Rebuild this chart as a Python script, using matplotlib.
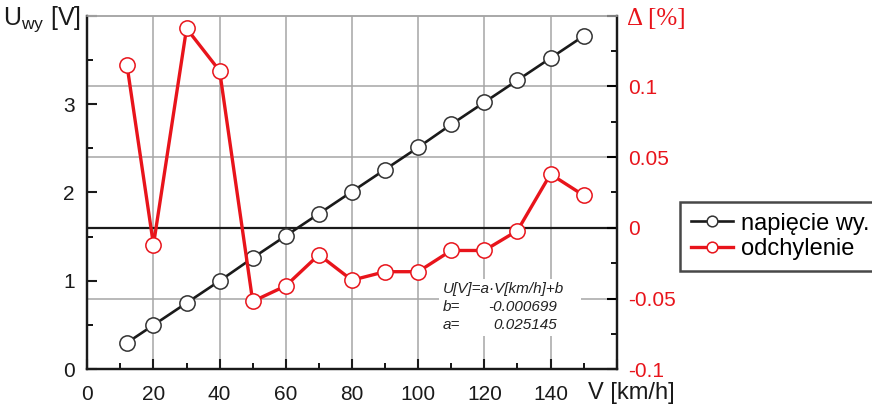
import matplotlib
matplotlib.use("Agg")
import matplotlib.pyplot as plt
from matplotlib.patches import Rectangle
from matplotlib.ticker import MultipleLocator

# ================== DATA ==================
speed = [12, 20, 30, 40, 50, 60, 70, 80, 90, 100, 110, 120, 130, 140, 150]
voltage = [0.30, 0.50, 0.75, 1.00, 1.26, 1.51, 1.76, 2.01, 2.26, 2.51,
           2.77, 3.02, 3.27, 3.52, 3.77]
deviation = [0.115, -0.012, 0.141, 0.111, -0.052, -0.041, -0.019, -0.037,
             -0.031, -0.031, -0.016, -0.016, -0.002, 0.038, 0.023]

x_ticks = [0, 20, 40, 60, 80, 100, 120, 140, 160]
x_ticklabels = ["0", "20", "40", "60", "80", "100", "120", "140", ""]
u_ticks = [0, 1, 2, 3, 4]
u_ticklabels = ["0", "1", "2", "3", ""]
d_ticks = [-0.1, -0.05, 0, 0.05, 0.1, 0.15]
d_ticklabels = ["-0.1", "-0.05", "0", "0.05", "0.1", ""]

fit_lines = ["U[V]=a\u00b7V[km/h]+b", "b=", "a="]
fit_values = ["-0.000699", "0.025145"]

# ================== STYLE ==================
FONT = "Liberation Sans"
TICK_FS = 15
BLACK = "#1a1a1a"
RED = "#e8141b"
GRID = "#a6a6a6"

plt.rcParams["font.family"] = FONT
plt.rcParams["axes.unicode_minus"] = False
plt.rcParams["mathtext.fontset"] = "custom"
plt.rcParams["mathtext.rm"] = FONT
plt.rcParams["mathtext.it"] = FONT + ":italic"

fig = plt.figure(figsize=(8.72, 4.09), dpi=100)
ax = fig.add_axes([0.1001, 0.0971, 0.6071, 0.8645])
ax2 = ax.twinx()

XLIM = (0, 160)
ULIM = (0, 4)
DLIM = (-0.1, 0.15)
ax.set_xlim(*XLIM)
ax.set_ylim(*ULIM)
ax2.set_ylim(*DLIM)

# horizontal grid follows the right axis -> map to left-axis units
def d_to_u(d):
    return ULIM[0] + (d - DLIM[0]) / (DLIM[1] - DLIM[0]) * (ULIM[1] - ULIM[0])

for d in d_ticks[1:-1]:
    if d == 0:
        ax.axhline(d_to_u(d), color=BLACK, lw=1.6, zorder=1.5)
    else:
        ax.axhline(d_to_u(d), color=GRID, lw=1.1, zorder=0.5)

ax.set_xticks(x_ticks, x_ticklabels)
ax.xaxis.set_minor_locator(MultipleLocator(10))
ax.grid(axis="x", color=GRID, lw=1.1, zorder=0.5)
ax.set_axisbelow(True)

ax.set_yticks(u_ticks, u_ticklabels)
ax.yaxis.set_minor_locator(MultipleLocator(0.5))
ax2.set_yticks(d_ticks, d_ticklabels)
ax2.yaxis.set_minor_locator(MultipleLocator(0.025))

ax.tick_params(axis="both", which="major", direction="in", length=7, width=1.5,
               labelsize=TICK_FS, colors=BLACK)
ax.tick_params(axis="both", which="minor", direction="in", length=4, width=1.3)
ax.tick_params(axis="y", pad=9)
ax.tick_params(axis="x", pad=11)
ax2.tick_params(axis="y", which="major", direction="in", length=7, width=1.5,
                labelsize=TICK_FS, labelcolor=RED, pad=8)
ax2.tick_params(axis="y", which="minor", direction="in", length=4, width=1.3)

for a in (ax, ax2):
    for side in ("left", "right", "bottom"):
        a.spines[side].set_linewidth(1.6)
        a.spines[side].set_color(BLACK)
    a.spines["top"].set_color(GRID)
    a.spines["top"].set_linewidth(1.1)

# series
l1, = ax.plot(speed, voltage, color=BLACK, lw=1.9, marker="o", ms=11,
              mfc="white", mec="#333333", mew=1.1, zorder=3,
              label="napi\u0119cie wy.")
l2, = ax2.plot(speed, deviation, color=RED, lw=2.4, marker="o", ms=11,
               mfc="white", mec=RED, mew=1.1, zorder=3, label="odchylenie")

# fit annotation on a white patch
ax2.add_patch(Rectangle((0.665, 0.095), 0.268, 0.16, transform=ax2.transAxes,
                        facecolor="white", edgecolor="none", zorder=1))
txt_kw = dict(transform=ax2.transAxes, fontsize=11, style="italic",
              color="#222222", va="center", zorder=4)
ax2.text(0.672, 0.226, fit_lines[0], ha="left", **txt_kw)
ax2.text(0.672, 0.175, fit_lines[1], ha="left", **txt_kw)
ax2.text(0.672, 0.124, fit_lines[2], ha="left", **txt_kw)
ax2.text(0.887, 0.175, fit_values[0], ha="right", **txt_kw)
ax2.text(0.887, 0.124, fit_values[1], ha="right", **txt_kw)

# axis titles
fig.text(81 / 872, 1 - 19 / 409, r"U$_{\mathrm{wy}}$ [V]", fontsize=18,
         ha="right", va="center", color=BLACK)
fig.text(627 / 872, 1 - 19 / 409, "\u0394 [%]", fontsize=18,
         family="Liberation Serif", ha="left", va="center", color=RED)
fig.text(588 / 872, 1 - 393 / 409, "V [km/h]", fontsize=17,
         ha="left", va="center", color=BLACK)

leg = fig.legend([l1, l2], [l1.get_label(), l2.get_label()],
                 loc="upper left", bbox_to_anchor=(680 / 872, 1 - 202 / 409),
                 fontsize=17, frameon=True, fancybox=False, markerscale=0.7,
                 handlelength=1.8, handletextpad=0.35, labelspacing=0.15,
                 borderpad=0.45, borderaxespad=0)
leg.get_frame().set_edgecolor(BLACK)
leg.get_frame().set_linewidth(1.8)

fig.savefig("out.png", dpi=100)
